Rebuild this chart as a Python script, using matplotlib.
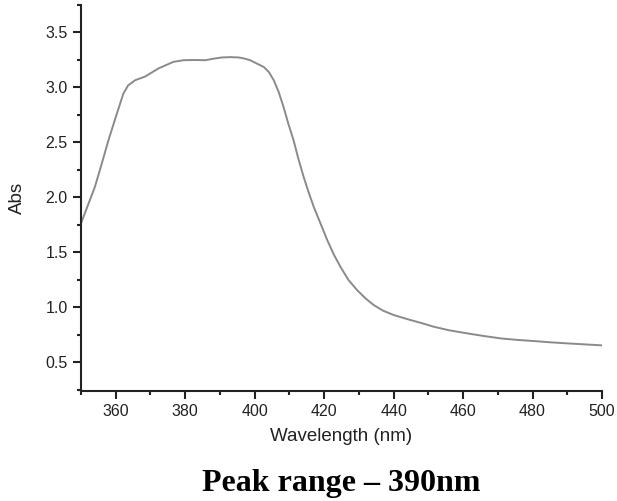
import matplotlib
matplotlib.use("Agg")
import matplotlib.pyplot as plt
from matplotlib.ticker import MultipleLocator

wavelength = [350, 352, 354, 356, 357.9, 360, 362.2, 363.6, 365.6, 368.5, 372.3, 376.6,
              379.5, 382.5, 385.8, 388.2, 390.6, 393, 395.4, 397.2, 398.7, 400.2, 402.6,
              404.1, 405.5, 406.9, 408.3, 409.7, 411.2, 412.6, 414.1, 415.5, 417, 419,
              420.9, 422.8, 424.7, 427, 429.5, 432, 434.3, 437, 440.1, 442, 444.9, 448,
              451.6, 456, 461.2, 466, 470.9, 475.5, 480.5, 485, 490, 495, 500]
absorbance = [1.764, 1.93, 2.096, 2.31, 2.52, 2.73, 2.945, 3.02, 3.066, 3.10, 3.173, 3.233,
              3.248, 3.25, 3.248, 3.262, 3.273, 3.276, 3.273, 3.262, 3.248, 3.224, 3.187,
              3.14, 3.066, 2.96, 2.824, 2.67, 2.52, 2.35, 2.187, 2.05, 1.915, 1.76,
              1.612, 1.48, 1.369, 1.25, 1.157, 1.08, 1.021, 0.97, 0.93, 0.912, 0.885, 0.858,
              0.824, 0.792, 0.764, 0.74, 0.718, 0.705, 0.694, 0.683, 0.673, 0.664, 0.655]

xticks = [360, 380, 400, 420, 440, 460, 480, 500]
yticks = [0.5, 1.0, 1.5, 2.0, 2.5, 3.0, 3.5]

plt.rcParams['font.family'] = ['Liberation Sans', 'DejaVu Sans']

fig = plt.figure(figsize=(6.17, 5.01), dpi=100)
ax = fig.add_axes([81 / 617, 1 - 391 / 501, (602 - 81) / 617, (391 - 5) / 501])

ax.plot(wavelength, absorbance, color='#8a8a8a', lw=1.4)

ax.set_xlim(350, 500)
ax.set_ylim(0.24, 3.75)
ax.set_xticks(xticks)
ax.set_yticks(yticks)
ax.set_yticklabels([f"{v:.1f}" for v in yticks])
ax.xaxis.set_minor_locator(MultipleLocator(10))
ax.yaxis.set_minor_locator(MultipleLocator(0.25))

for s in ['top', 'right']:
    ax.spines[s].set_visible(False)
for s in ['left', 'bottom']:
    ax.spines[s].set_linewidth(1.5)
    ax.spines[s].set_color('#222222')

ax.tick_params(axis='both', which='major', direction='out', length=5.5, width=1.5,
               labelsize=11.5, colors='#222222', pad=4)
ax.tick_params(axis='both', which='minor', direction='out', length=2.8, width=1.5,
               colors='#222222')

ax.set_xlabel("Wavelength (nm)", fontsize=13.5, color='#222222', labelpad=6)
ax.set_ylabel("Abs", fontsize=13.5, color='#222222', labelpad=14)

fig.text(341 / 617, 1 - 483 / 501, "Peak range \u2013 390nm", ha='center', va='center',
         fontsize=23, fontweight='bold', family=['Liberation Serif', 'DejaVu Serif'])

fig.savefig("out.png", dpi=100)
